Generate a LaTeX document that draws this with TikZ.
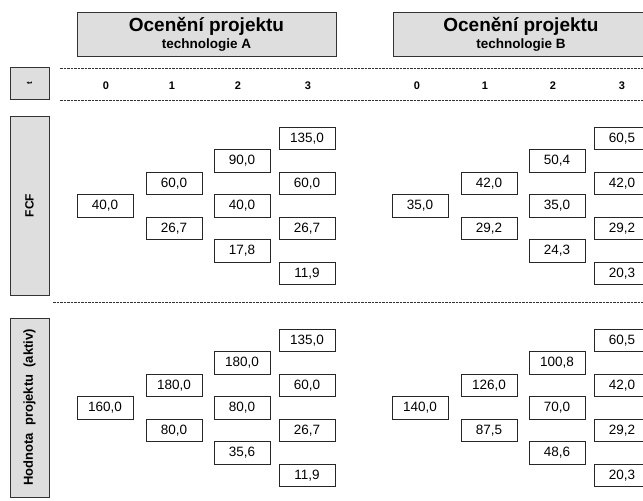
\documentclass[tikz,border=0pt]{standalone}
\usepackage{fontspec}
\setmainfont{Liberation Sans}
\begin{document}
\begin{tikzpicture}[x=1pt,y=-1pt,
  valbox/.style={draw=black!85, line width=0.9pt, fill=white, minimum width=56pt, minimum height=22.5pt, inner sep=0pt, font=\fontsize{13.5}{14}\selectfont},
  graybox/.style={draw=black!80, line width=1pt, fill=black!13, inner sep=0pt},
  collab/.style={font=\fontsize{11}{12}\selectfont\bfseries},
  sidelab/.style={rotate=90, font=\fontsize{12}{13}\selectfont\bfseries},
  dashline/.style={draw=black!80, line width=0.8pt, dash pattern=on 2.5pt off 1pt}]
\useasboundingbox[clip] (0,0) rectangle (643,501);
\fill[white] (0,0) rectangle (643,501);
% headers
\node[graybox, minimum width=259pt, minimum height=44pt] (hA) at (206.5,34) {};
\node[font=\fontsize{19}{20}\selectfont\bfseries] (hAt) at (206.5,26.5) {Ocenění projektu};
\node[font=\fontsize{13.5}{14}\selectfont\bfseries] (hAs) at (206.5,45) {technologie A};
\node[graybox, minimum width=259pt, minimum height=44pt] (hB) at (522.5,34) {};
\node[font=\fontsize{19}{20}\selectfont\bfseries] (hBt) at (521,26.5) {Ocenění projektu};
\node[font=\fontsize{13.5}{14}\selectfont\bfseries] (hBs) at (521,45) {technologie B};
% side labels
\node[graybox, minimum width=39pt, minimum height=32pt] (tb) at (29.5,83.5) {};
\node[sidelab, font=\fontsize{8}{9}\selectfont\bfseries] (tl) at (29.5,83.5) {t};
\node[graybox, minimum width=39pt, minimum height=179pt] (fb) at (29.5,205.5) {};
\node[sidelab] (fl) at (29.5,205.5) {FCF};
\node[graybox, minimum width=39pt, minimum height=179pt] (vb) at (29.5,407.5) {};
\node[sidelab, font=\fontsize{13}{14}\selectfont\bfseries] (vl) at (29.5,407.5) {Hodnota\ \ projektu\ \ (aktiv)};
% dashed lines
\coordinate (d1a) at (60,68); \coordinate (d1b) at (643,68);
\coordinate (d2a) at (60,100); \coordinate (d2b) at (643,100);
\coordinate (d3a) at (53,302); \coordinate (d3b) at (643,302);
\draw[dashline] (d1a) -- (d1b);
\draw[dashline] (d2a) -- (d2b);
\draw[dashline] (d3a) -- (d3b);
% column labels
\foreach \x/\t/\n in {106/0/a0,172/1/a1,238/2/a2,308/3/a3,417/0/b0,485/1/b1,553/2/b2,622/3/b3}
  \node[collab] (c\n) at (\x,86) {\t};
% value boxes
\foreach \nm/\x/\y/\v in {
  fA0/105/206/{40,0},
  fA1u/174/183.5/{60,0}, fA1d/174/228.5/{26,7},
  fA2u/242/161/{90,0}, fA2m/242/206/{40,0}, fA2d/242/251/{17,8},
  fA3a/307/138.5/{135,0}, fA3b/307/183.5/{60,0}, fA3c/307/228.5/{26,7}, fA3d/307/273.5/{11,9},
  fB0/420/206/{35,0},
  fB1u/489/183.5/{42,0}, fB1d/489/228.5/{29,2},
  fB2u/557/161/{50,4}, fB2m/557/206/{35,0}, fB2d/557/251/{24,3},
  fB3a/622/138.5/{60,5}, fB3b/622/183.5/{42,0}, fB3c/622/228.5/{29,2}, fB3d/622/273.5/{20,3},
  hA0/105/408/{160,0},
  hA1u/174/385.5/{180,0}, hA1d/174/430.5/{80,0},
  hA2u/242/363/{180,0}, hA2m/242/408/{80,0}, hA2d/242/453/{35,6},
  hA3a/307/340.5/{135,0}, hA3b/307/385.5/{60,0}, hA3c/307/430.5/{26,7}, hA3d/307/475.5/{11,9},
  hB0/420/408/{140,0},
  hB1u/489/385.5/{126,0}, hB1d/489/430.5/{87,5},
  hB2u/557/363/{100,8}, hB2m/557/408/{70,0}, hB2d/557/453/{48,6},
  hB3a/622/340.5/{60,5}, hB3b/622/385.5/{42,0}, hB3c/622/430.5/{29,2}, hB3d/622/475.5/{20,3}}
  \node[valbox] (\nm) at (\x,\y) {\v};
\end{tikzpicture}
\end{document}
